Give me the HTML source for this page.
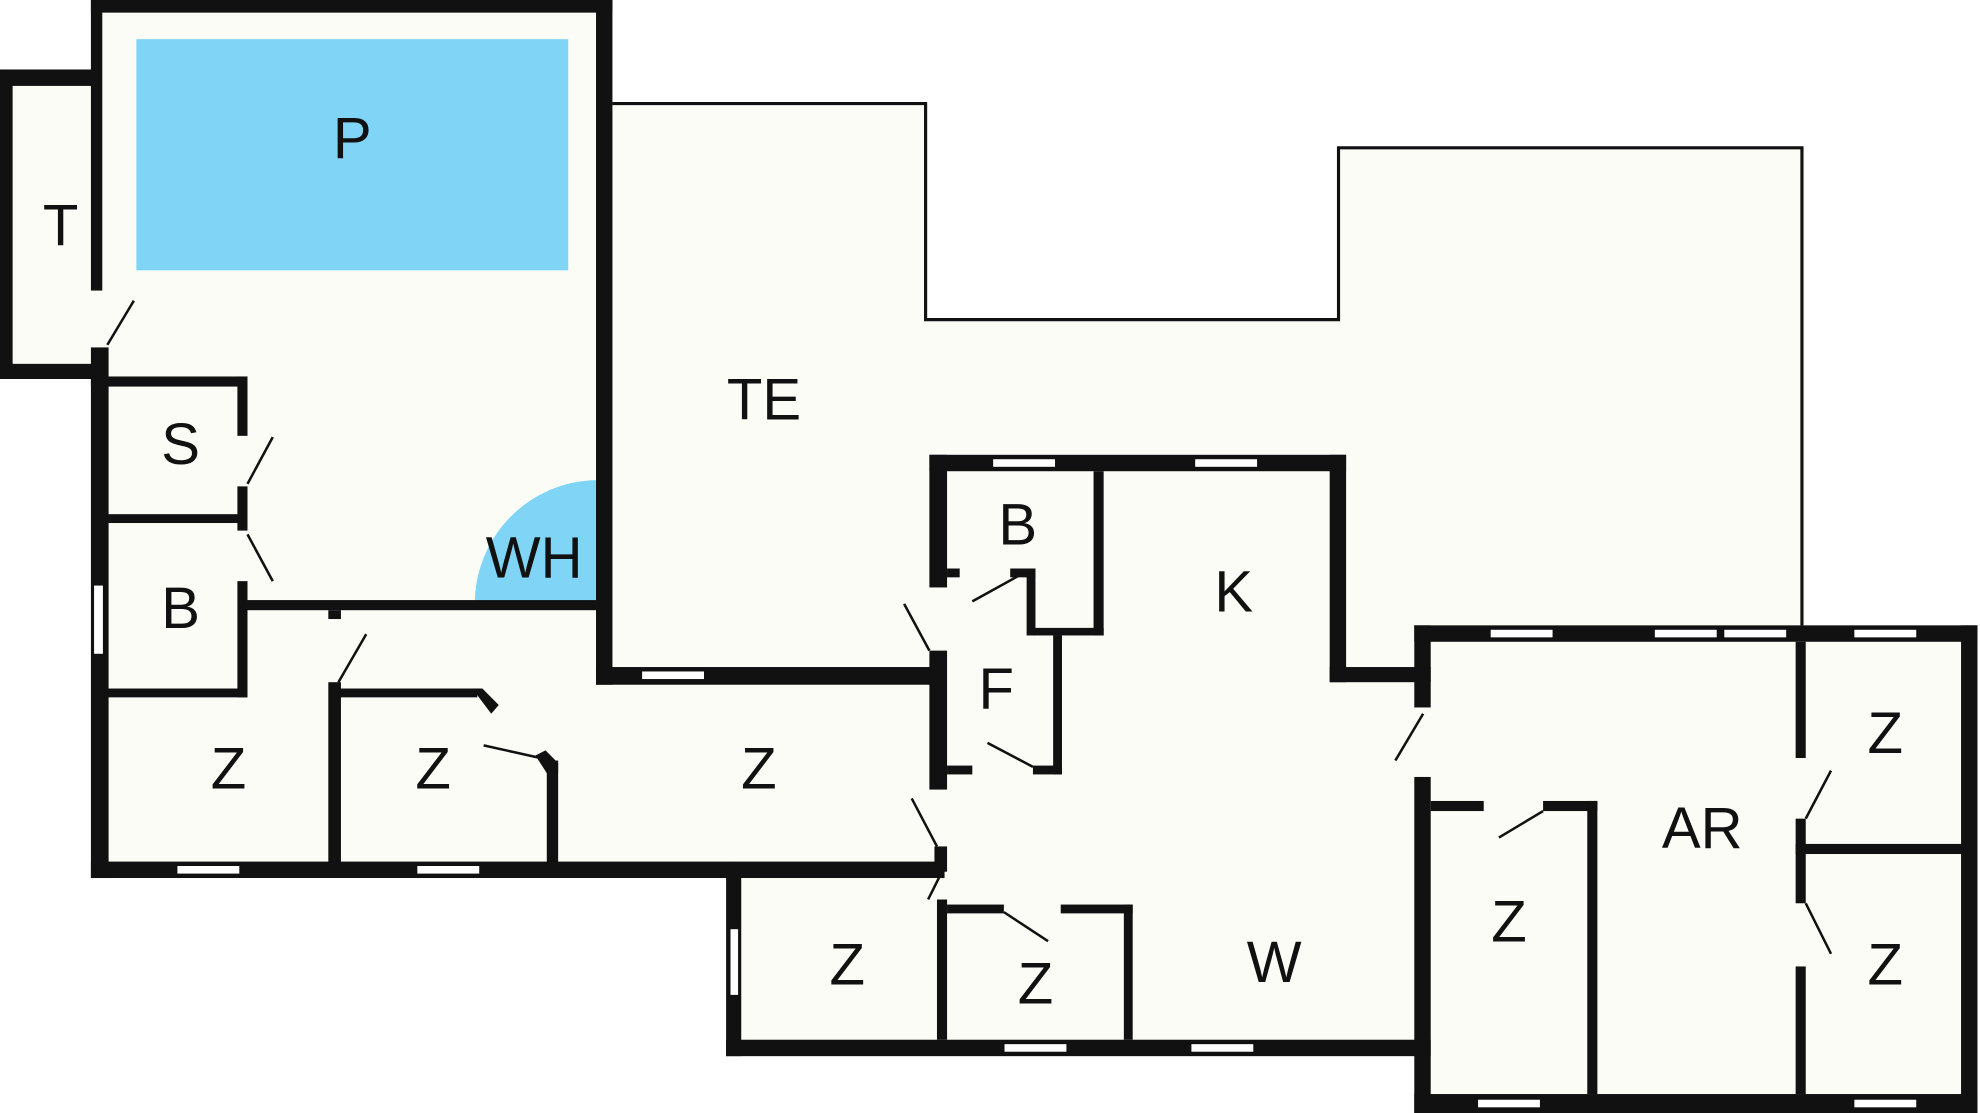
<!DOCTYPE html>
<html><head><style>html,body{margin:0;padding:0;background:#fff}svg{display:block}
text{font-family:"Liberation Sans",sans-serif;font-size:46px;fill:#111;text-anchor:middle;dominant-baseline:middle}</style></head>
<body>
<svg width="1980" height="1113" viewBox="0 0 1568 881" preserveAspectRatio="none">
<g fill="#fcfcf6">
<rect x="0" y="55" width="86" height="245"/>
<rect x="72" y="0" width="413" height="695"/>
<polygon points="485,82 733,82 733,253 1060,253 1060,117 1427,117 1427,500 1130,500 1130,540 750,540 750,542 485,542"/>
<rect x="480" y="535" width="270" height="155"/>
<rect x="575" y="540" width="560" height="296"/>
<rect x="736" y="360" width="330" height="200"/>
<rect x="1120" y="495" width="446" height="386"/>
</g>
<polyline points="485,82 733,82 733,253 1060,253 1060,117 1427,117 1427,495" fill="none" stroke="#111" stroke-width="2.5"/>
<rect x="108" y="31" width="342" height="183" fill="#80d4f5"/>
<path d="M472,380 A98,98 0 0 0 376,478 L472,478 Z" fill="#80d4f5"/>
<g fill="#111">
<rect x="0" y="55" width="10" height="245"/><rect x="0" y="55" width="80" height="13"/><rect x="0" y="288" width="80" height="12"/>
<rect x="72" y="0" width="413" height="10"/>
<rect x="72" y="0" width="9" height="230"/><rect x="72" y="275" width="14" height="420"/>
<rect x="472" y="0" width="13" height="542"/>
<rect x="72" y="298" width="124" height="8"/><rect x="188" y="298" width="8" height="47"/><rect x="188" y="385" width="8" height="35"/><rect x="188" y="460" width="8" height="92"/>
<rect x="80" y="407" width="116" height="7"/><rect x="80" y="545" width="116" height="7"/>
<rect x="196" y="475" width="276" height="8"/>
<rect x="260" y="483" width="10" height="7"/><rect x="260" y="540" width="10" height="143"/>
<rect x="262" y="545" width="116" height="7"/>
<polygon points="374,545 382,545 395,558 389,565"/><polygon points="424,598 432,594 442,604 442,612 433,612"/>
<rect x="433" y="602" width="9" height="81"/>
<rect x="72" y="682" width="676" height="13"/>
<rect x="472" y="528" width="276" height="14"/>
<rect x="736" y="360" width="330" height="13"/><rect x="1053" y="360" width="13" height="180"/><rect x="1053" y="528" width="80" height="12"/>
<rect x="736" y="360" width="14" height="105"/><rect x="736" y="515" width="14" height="110"/><rect x="740" y="670" width="10" height="20"/>
<rect x="866" y="373" width="8" height="130"/><rect x="818" y="497" width="56" height="6"/>
<rect x="813" y="450" width="7" height="53"/><rect x="750" y="450" width="10" height="7"/><rect x="800" y="450" width="20" height="7"/>
<rect x="834" y="503" width="7" height="110"/><rect x="750" y="606" width="20" height="7"/><rect x="818" y="606" width="23" height="7"/>
<rect x="575" y="683" width="12" height="153"/><rect x="575" y="823" width="558" height="13"/>
<rect x="742" y="712" width="8" height="111"/><rect x="750" y="716" width="45" height="7"/><rect x="840" y="716" width="57" height="7"/><rect x="890" y="716" width="7" height="107"/>
<rect x="1120" y="495" width="446" height="13"/><rect x="1553" y="495" width="13" height="386"/><rect x="1120" y="866" width="446" height="15"/>
<rect x="1120" y="495" width="13" height="65"/><rect x="1120" y="615" width="13" height="266"/>
<rect x="1133" y="634" width="42" height="8"/><rect x="1222" y="634" width="43" height="8"/><rect x="1257" y="634" width="8" height="232"/>
<rect x="1422" y="508" width="8" height="92"/><rect x="1422" y="648" width="8" height="67"/><rect x="1422" y="765" width="8" height="101"/>
<rect x="1422" y="668" width="134" height="8"/>
</g>
<g fill="#fff" stroke="#111" stroke-width="1">
<rect x="74" y="463" width="8" height="55"/><rect x="140" y="685" width="50" height="7"/><rect x="330" y="685" width="50" height="7"/>
<rect x="508" y="531" width="50" height="7"/><rect x="786" y="363" width="50" height="7"/><rect x="946" y="363" width="50" height="7"/>
<rect x="578" y="735" width="7" height="53"/><rect x="795" y="826" width="50" height="7"/><rect x="943" y="826" width="50" height="7"/>
<rect x="1180" y="498" width="50" height="7"/><rect x="1310" y="498" width="50" height="7"/><rect x="1365" y="498" width="50" height="7"/><rect x="1468" y="498" width="50" height="7"/>
<rect x="1170" y="870" width="50" height="7"/><rect x="1468" y="870" width="50" height="7"/>
</g>
<g stroke="#111" stroke-width="2">
<line x1="85" y1="273" x2="106" y2="238"/><line x1="196" y1="383" x2="216" y2="346"/><line x1="196" y1="423" x2="216" y2="460"/>
<line x1="268" y1="540" x2="290" y2="502"/><line x1="383" y1="590" x2="428" y2="600"/>
<line x1="716" y1="478" x2="736" y2="515"/><line x1="770" y1="476" x2="808" y2="455"/><line x1="782" y1="588" x2="818" y2="607"/>
<line x1="722" y1="632" x2="742" y2="670"/><line x1="735" y1="712" x2="745" y2="692"/><line x1="795" y1="722" x2="830" y2="745"/>
<line x1="1105" y1="602" x2="1127" y2="565"/><line x1="1187" y1="663" x2="1222" y2="642"/>
<line x1="1430" y1="648" x2="1450" y2="610"/><line x1="1430" y1="715" x2="1450" y2="755"/>
</g>
<text x="48" y="182">T</text><text x="279" y="113">P</text><text x="605" y="320">TE</text><text x="143" y="355">S</text>
<text x="143" y="485">B</text><text x="423" y="445">WH</text><text x="181" y="612">Z</text><text x="343" y="612">Z</text>
<text x="601" y="612">Z</text><text x="806" y="419">B</text><text x="977" y="472">K</text><text x="789" y="549">F</text>
<text x="671" y="767">Z</text><text x="820" y="782">Z</text><text x="1009" y="765">W</text><text x="1348" y="659">AR</text>
<text x="1195" y="733">Z</text><text x="1493" y="584">Z</text><text x="1493" y="767">Z</text>
</svg>
</body></html>
